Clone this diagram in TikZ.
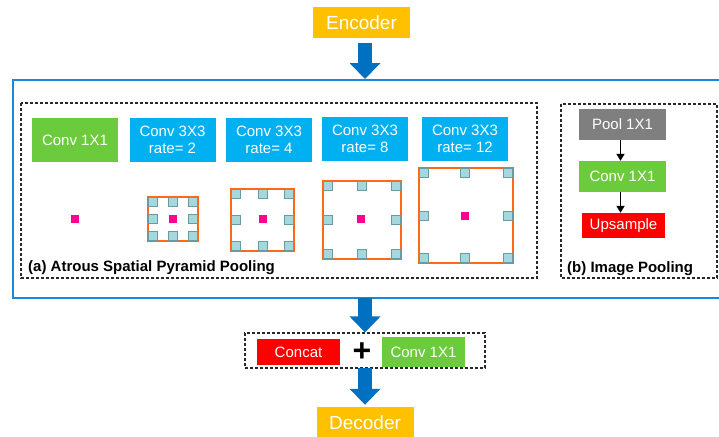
\documentclass[tikz,border=0pt]{standalone}
\usepackage{fontspec}
\setmainfont{Liberation Sans}
\usetikzlibrary{arrows.meta}
\definecolor{encorange}{RGB}{255,192,0}
\definecolor{convgreen}{RGB}{108,203,60}
\definecolor{convblue}{RGB}{0,176,240}
\definecolor{upred}{RGB}{255,0,0}
\definecolor{poolgray}{RGB}{127,127,127}
\definecolor{arrowblue}{RGB}{0,112,192}
\definecolor{frameblue}{RGB}{25,135,220}
\definecolor{rateorange}{RGB}{255,105,25}
\definecolor{centermag}{RGB}{255,0,144}
\definecolor{tapfill}{RGB}{165,216,221}
\definecolor{tapline}{RGB}{105,155,160}
\definecolor{dashgray}{RGB}{40,40,40}
\begin{document}
\begin{tikzpicture}[x=1pt,y=-1pt,
  box/.style={inner sep=0pt, text=white, align=center, font=\fontsize{15}{17}\selectfont},
  bigbox/.style={box, fill=encorange, minimum width=97pt, minimum height=31pt, font=\fontsize{19}{21}\selectfont},
  ratebox/.style={box, fill=convblue, minimum width=86pt, minimum height=44pt},
  dashbox/.style={draw=dashgray, line width=1.1pt, dash pattern=on 3pt off 2pt},
  framebox/.style={draw=frameblue, line width=2.5pt},
  bigarrow/.style={draw=arrowblue, line width=14pt, -{Triangle[width=30pt,length=16pt]}},
  smallarrow/.style={draw=black, line width=1.8pt, -{Triangle[width=8pt,length=7pt]}},
  orect/.style={draw=rateorange, line width=2pt},
  tapsq/.style={draw=tapline, fill=tapfill, line width=0.9pt},
  ctrsq/.style={fill=centermag},
  lbl/.style={inner sep=0pt, anchor=west, font=\bfseries\fontsize{15}{17}\selectfont}
]
\useasboundingbox (0,0) rectangle (719,436);
\clip (0,0) rectangle (719,436);
\fill[white] (0,0) rectangle (719,436);

% Encoder / frame
\node[bigbox] (enc) at (361.5,22.5) {Encoder};
\coordinate (ftop) at (365,79);
\coordinate (fbot) at (365,298);
\draw[framebox] (730,80) -- (13,80) -- (13,298) -- (730,298);
\draw[bigarrow] ([xshift=3.5pt,yshift=-5pt]enc.south) -- (ftop);

% ASPP dashed box
\draw[dashbox] (21,103) rectangle (537,278);
\node[lbl] (aspplbl) at (28,268) {(a) Atrous Spatial Pyramid Pooling};

\node[box, fill=convgreen, minimum width=86pt, minimum height=44pt] (c11) at (75,140) {Conv 1X1};
\node[ratebox] (r2) at (172.5,140) {Conv 3X3\\rate= 2};
\node[ratebox] (r4) at (269,139.5) {Conv 3X3\\rate= 4};
\node[ratebox] (r8) at (365,138.5) {Conv 3X3\\rate= 8};
\node[ratebox] (r12) at (465,138.5) {Conv 3X3\\rate= 12};

% kernels
\fill[ctrsq] (75,219) ++(-4.25,-4.25) rectangle ++(8.5,8.5);

\draw[orect] (148,197) rectangle (198,241);
\foreach \x/\y in {153/202,173/202,193/202,153/219,193/219,153/236,173/236,193/236}
  \path[tapsq] (\x,\y) ++(-4.25,-4.25) rectangle ++(8.5,8.5);
\fill[ctrsq] (173,219) ++(-4.25,-4.25) rectangle ++(8.5,8.5);

\draw[orect] (231,189) rectangle (294,251);
\foreach \x/\y in {236/194,263/194,289/194,236/220,289/220,236/246,263/246,289/246}
  \path[tapsq] (\x,\y) ++(-4.25,-4.25) rectangle ++(8.5,8.5);
\fill[ctrsq] (263,219) ++(-4.25,-4.25) rectangle ++(8.5,8.5);

\draw[orect] (323,181) rectangle (401,259);
\foreach \x/\y in {328/186,362/186,396/186,328/220,396/220,328/254,362/254,396/254}
  \path[tapsq] (\x,\y) ++(-4.25,-4.25) rectangle ++(8.5,8.5);
\fill[ctrsq] (361,219) ++(-4.25,-4.25) rectangle ++(8.5,8.5);

\draw[orect] (419,168) rectangle (513,263);
\foreach \x/\y in {424/173,465/173,508/173,424/216,508/216,424/258,465/258,508/258}
  \path[tapsq] (\x,\y) ++(-4.25,-4.25) rectangle ++(8.5,8.5);
\fill[ctrsq] (465,216) ++(-4.25,-4.25) rectangle ++(8.5,8.5);

% Image pooling
\draw[dashbox] (561,104) rectangle (717,278);
\node[lbl] (iplbl) at (567,269) {(b) Image Pooling};
\node[box, fill=poolgray, minimum width=87pt, minimum height=31pt] (pool) at (622.5,124.5) {Pool 1X1};
\node[box, fill=convgreen, minimum width=87pt, minimum height=31pt] (pconv) at (622.5,176.5) {Conv 1X1};
\node[box, fill=upred, minimum width=83pt, minimum height=25pt] (up) at (623.5,225.5) {Upsample};
\draw[smallarrow] ([xshift=-2pt]pool.south) -- ([xshift=-2pt]pconv.north);
\draw[smallarrow] ([xshift=-2pt]pconv.south) -- ([xshift=-3pt]up.north);

% merge
\node[dashbox, minimum width=240pt, minimum height=35pt, inner sep=0pt] (merge) at (365,350.5) {};
\node[box, fill=upred, minimum width=83pt, minimum height=26pt] (concat) at (298.5,352) {Concat};
\node[inner sep=0pt, font=\bfseries\fontsize{32}{32}\selectfont] (plus) at (362,352) {+};
\node[box, fill=convgreen, minimum width=83pt, minimum height=30pt] (mconv) at (423.5,352) {Conv 1X1};
\draw[bigarrow] (fbot) -- (merge.north);

\node[bigbox] (dec) at (365,422.5) {Decoder};
\draw[bigarrow, shorten >=2pt] ([yshift=1pt]merge.south) -- (dec.north);
\end{tikzpicture}
\end{document}
